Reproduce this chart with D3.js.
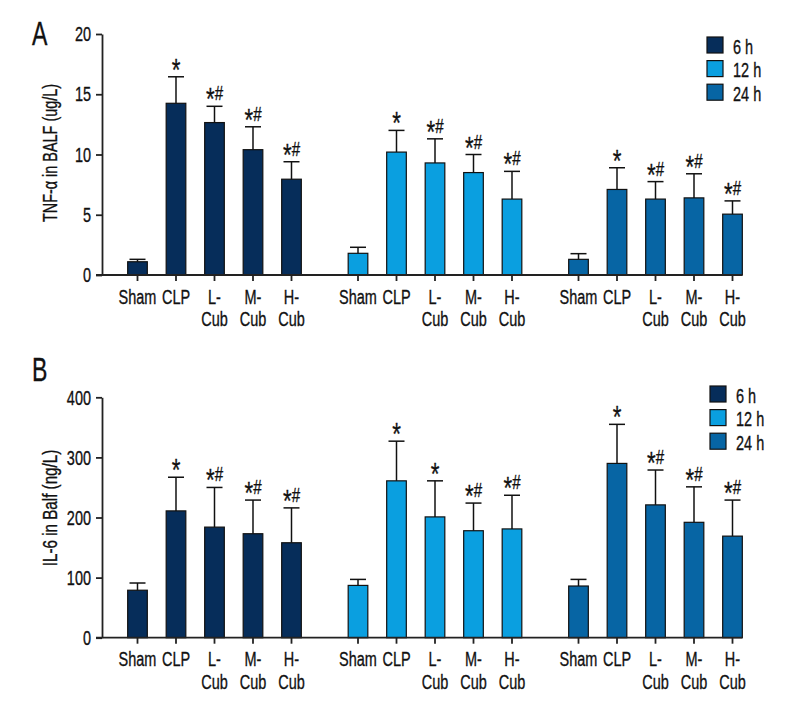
<!DOCTYPE html>
<html>
<head>
<meta charset="utf-8">
<script src="https://cdn.jsdelivr.net/npm/d3@7"></script>
<style>
  html, body { margin: 0; padding: 0; background: #fff; }
  svg { display: block; }
  text { font-family: "Liberation Sans", Arial, sans-serif; fill: #111; stroke: #111; stroke-width: 0.35px; }
</style>
</head>
<body>
<svg id="chart" width="800" height="720"></svg>
<script>
// ---------- data ----------
const categories = ["Sham", "CLP", "L-Cub", "M-Cub", "H-Cub"];
const tickLines = [["Sham"], ["CLP"], ["L-", "Cub"], ["M-", "Cub"], ["H-", "Cub"]];
const groups = ["6 h", "12 h", "24 h"];
const groupColors = ["#062d5a", "#0a9fe0", "#0765a4"];

// Panel A: TNF-α in BALF (ug/L)
const tnfMean6h  = [1.1, 14.25, 12.65, 10.4, 7.95];
const tnfErr6h   = [0.2, 2.2, 1.35, 1.9, 1.45];
const tnfMean12h = [1.8, 10.2, 9.3, 8.5, 6.3];
const tnfErr12h  = [0.5, 1.8, 2.0, 1.5, 2.3];
const tnfMean24h = [1.3, 7.1, 6.3, 6.4, 5.05];
const tnfErr24h  = [0.47, 1.8, 1.45, 2.0, 1.1];
const tnfMarks6h  = ["", "*", "*#", "*#", "*#"];
const tnfMarks12h = ["", "*", "*#", "*#", "*#"];
const tnfMarks24h = ["", "*", "*#", "*#", "*#"];
const tnfTicks = [0, 5, 10, 15, 20];

// Panel B: IL-6 in Balf (ng/L)
const il6Mean6h  = [79, 211, 184, 173, 158];
const il6Err6h   = [12, 56, 66, 56, 58];
const il6Mean12h = [87, 261, 201, 178, 181];
const il6Err12h  = [10, 66, 60, 46, 56];
const il6Mean24h = [86, 290, 221, 192, 169];
const il6Err24h  = [11, 65, 58, 59, 60];
const il6Marks6h  = ["", "*", "*#", "*#", "*#"];
const il6Marks12h = ["", "*", "*", "*#", "*#"];
const il6Marks24h = ["", "*", "*#", "*#", "*#"];
const il6Ticks = [0, 100, 200, 300, 400];

// ---------- drawing ----------
const svg = d3.select("#chart");
const SX = 0.69; // horizontal compression to mimic a condensed face
const FS = "21px";

const xGroup = d3.scaleBand().domain(groups).range([118.25, 751.75]).paddingInner(0.127).paddingOuter(0);
const xInner = d3.scaleBand().domain(categories).range([0, xGroup.bandwidth()]).paddingInner(0.49).paddingOuter(0.245);

function condensed(sel, x, y, sx) {
  return sel.attr("transform", `translate(${x},${y}) scale(${sx || SX},1)`);
}

function drawPanel(opt) {
  const g = svg.append("g");
  const y = d3.scaleLinear().domain([0, opt.yMax]).range([opt.y0, opt.y1]);
  const axisX = 102;

  const rows = [];
  groups.forEach((grp, gi) => {
    categories.forEach((c, ci) => {
      rows.push({grp, gi, c, ci, mean: opt.means[gi][ci], err: opt.errs[gi][ci], mark: opt.marks[gi][ci]});
    });
  });
  const cx = d => xGroup(d.grp) + xInner(d.c) + xInner.bandwidth() / 2;

  // bars
  g.selectAll("rect.bar").data(rows).join("rect")
    .attr("class", "bar")
    .attr("x", d => xGroup(d.grp) + xInner(d.c))
    .attr("width", xInner.bandwidth())
    .attr("y", d => y(d.mean))
    .attr("height", d => y(0) - y(d.mean))
    .attr("fill", d => groupColors[d.gi])
    .attr("stroke", "#111")
    .attr("stroke-width", 1.2);

  // error bars (upper only)
  const capW = 16;
  g.selectAll("line.err").data(rows).join("line")
    .attr("x1", cx).attr("x2", cx)
    .attr("y1", d => y(d.mean)).attr("y2", d => y(d.mean + d.err))
    .attr("stroke", "#111").attr("stroke-width", 1.5);
  g.selectAll("line.cap").data(rows).join("line")
    .attr("x1", d => cx(d) - capW / 2).attr("x2", d => cx(d) + capW / 2)
    .attr("y1", d => y(d.mean + d.err)).attr("y2", d => y(d.mean + d.err))
    .attr("stroke", "#111").attr("stroke-width", 1.5);

  // significance marks
  const marks = g.selectAll("text.mark").data(rows.filter(d => d.mark)).join("text")
    .attr("class", "mark")
    .attr("text-anchor", "middle")
    .style("font-size", "21px")
    .each(function(d) { condensed(d3.select(this), cx(d), y(d.mean + d.err) - 6, 0.72); });
  marks.each(function(d) {
    const t = d3.select(this);
    t.append("tspan").text("*").style("font-size", "31px").attr("dy", 10);
    if (d.mark.length > 1) t.append("tspan").text(d.mark.slice(1)).attr("dy", -10);
  });

  // y axis
  const yAxis = d3.axisLeft(y).tickValues(opt.ticks).tickSize(6).tickSizeOuter(0).tickPadding(5);
  const ya = g.append("g").attr("transform", `translate(${axisX},0)`).call(yAxis);
  ya.select(".domain").attr("stroke", "#222").attr("stroke-width", 1.8);
  ya.selectAll(".tick line").attr("stroke", "#222").attr("stroke-width", 1.8);
  ya.selectAll(".tick text")
    .attr("x", 0)
    .attr("transform", `translate(-11,0) scale(${SX},1)`)
    .attr("fill", "#111")
    .style("font-size", FS)
    .style("font-family", "'Liberation Sans', Arial, sans-serif");

  // x baseline + ticks
  const lastRight = xGroup(groups[2]) + xInner(categories[4]) + xInner.bandwidth();
  g.append("line").attr("x1", axisX - 6).attr("x2", lastRight)
    .attr("y1", y(0)).attr("y2", y(0)).attr("stroke", "#222").attr("stroke-width", 1.8);
  g.selectAll("line.xt").data(rows).join("line")
    .attr("x1", cx).attr("x2", cx).attr("y1", y(0)).attr("y2", y(0) + 6)
    .attr("stroke", "#222").attr("stroke-width", 1.8);
  const lbl = g.selectAll("text.xl").data(rows).join("text")
    .attr("class", "xl")
    .attr("text-anchor", "middle")
    .style("font-size", FS)
    .each(function(d) { condensed(d3.select(this), cx(d), y(0) + 28.5); });
  lbl.each(function(d) {
    const t = d3.select(this);
    tickLines[d.ci].forEach((s, i) => {
      t.append("tspan").attr("x", 0).attr("dy", i === 0 ? 0 : 22.5).text(s);
    });
  });

  // y label
  g.append("text")
    .attr("transform", `translate(${opt.yLabelX},${opt.yLabelY}) rotate(-90) scale(${opt.yLabelSX},1)`)
    .attr("text-anchor", "middle")
    .style("font-size", "19.5px")
    .text(opt.yLabel);

  // panel letter
  condensed(g.append("text"), 32, opt.letterY, 0.7).style("font-size", "33px").text(opt.letter);

  // legend
  const lg = g.append("g").attr("transform", `translate(${opt.legX},${opt.legY})`);
  groups.forEach((grp, i) => {
    lg.append("rect").attr("x", 0).attr("y", i * 23.6).attr("width", 16).attr("height", 16)
      .attr("fill", groupColors[i]).attr("stroke", "#111").attr("stroke-width", 1.2);
    condensed(lg.append("text"), 26, i * 23.6 + 16.5).style("font-size", FS).text(grp);
  });
}

drawPanel({
  yMax: 20, y0: 275, y1: 34, ticks: tnfTicks,
  means: [tnfMean6h, tnfMean12h, tnfMean24h],
  errs: [tnfErr6h, tnfErr12h, tnfErr24h],
  marks: [tnfMarks6h, tnfMarks12h, tnfMarks24h],
  yLabel: "TNF-\u03b1 in BALF  (ug/L)", yLabelX: 57, yLabelY: 153, yLabelSX: 0.74,
  letter: "A", letterY: 45,
  legX: 707, legY: 37
});

drawPanel({
  yMax: 400, y0: 637.7, y1: 397.3, ticks: il6Ticks,
  means: [il6Mean6h, il6Mean12h, il6Mean24h],
  errs: [il6Err6h, il6Err12h, il6Err24h],
  marks: [il6Marks6h, il6Marks12h, il6Marks24h],
  yLabel: "IL-6 in Balf (ng/L)", yLabelX: 57, yLabelY: 508, yLabelSX: 0.78,
  letter: "B", letterY: 381,
  legX: 710, legY: 386
});
</script>
</body>
</html>
